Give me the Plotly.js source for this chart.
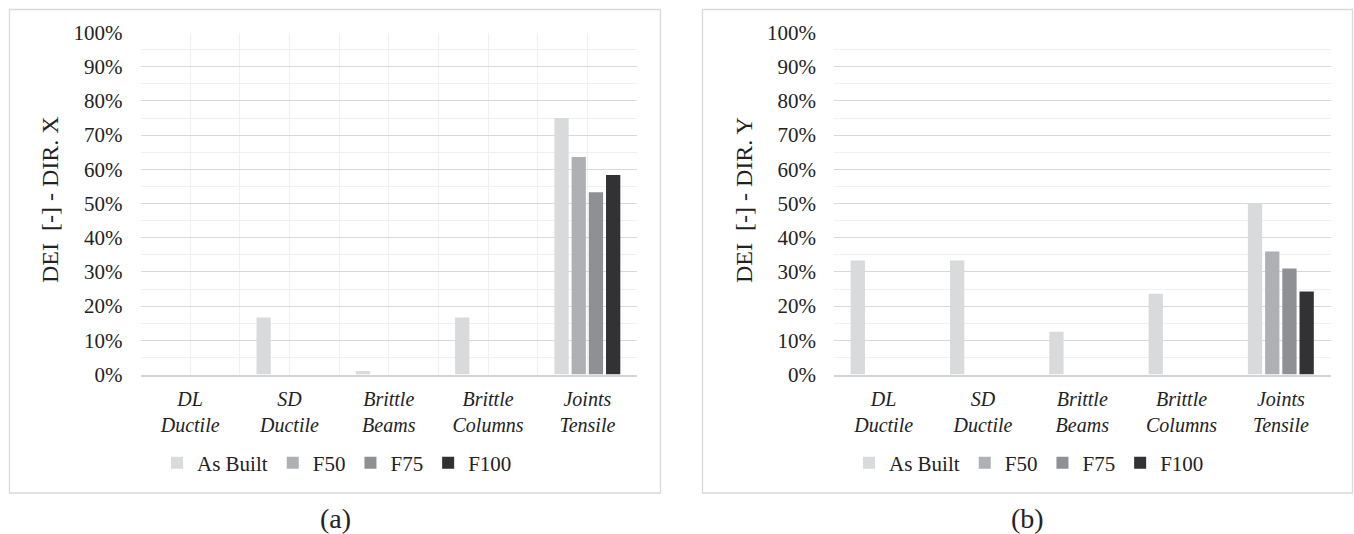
<!DOCTYPE html>
<html>
<head>
<meta charset="utf-8">
<script src="https://cdn.plot.ly/plotly-3.0.1.min.js"></script>
<style>
  html, body { margin: 0; padding: 0; background: #ffffff; }
  #chart { width: 1354px; height: 534px; }
</style>
</head>
<body>
<div id="chart"></div>
<script>
// ---- Data ----
const categories = ['DL<br>Ductile', 'SD<br>Ductile', 'Brittle<br>Beams', 'Brittle<br>Columns', 'Joints<br>Tensile'];
const seriesNames = ['As Built', 'F50', 'F75', 'F100'];
const seriesColors = ['#d9dadc', '#afb0b3', '#8f9094', '#323133'];

// (a) DIR. X
const dirX_AsBuilt = [0.000, 0.167, 0.010, 0.167, 0.750];
const dirX_F50     = [0.000, 0.000, 0.000, 0.000, 0.636];
const dirX_F75     = [0.000, 0.000, 0.000, 0.000, 0.533];
const dirX_F100    = [0.000, 0.000, 0.000, 0.000, 0.583];

// (b) DIR. Y
const dirY_AsBuilt = [0.333, 0.333, 0.125, 0.236, 0.500];
const dirY_F50     = [0.000, 0.000, 0.000, 0.000, 0.360];
const dirY_F75     = [0.000, 0.000, 0.000, 0.000, 0.310];
const dirY_F100    = [0.000, 0.000, 0.000, 0.000, 0.243];

const yTitleX = 'DEI  [-] - DIR. X';
const yTitleY = 'DEI  [-] - DIR. Y';
const panelLabels = ['(a)', '(b)'];

// ---- Build ----
const FONT = '"Liberation Serif", "Times New Roman", "DejaVu Serif", serif';
const TXT = '#222222';
const W = 1354, H = 534;
const px = v => v / W;
const py = v => 1 - v / H;

const catIdx = categories.map((_, i) => i);
const tickText = categories.map(c => '<i>' + c + '</i>');

const setX = [dirX_AsBuilt, dirX_F50, dirX_F75, dirX_F100];
const setY = [dirY_AsBuilt, dirY_F50, dirY_F75, dirY_F100];

const traces = [];
setX.forEach((vals, k) => traces.push({
  type: 'bar', x: catIdx, y: vals, name: seriesNames[k],
  marker: { color: seriesColors[k], line: { width: 0 } },
  xaxis: 'x', yaxis: 'y', legend: 'legend', hoverinfo: 'skip'
}));
setY.forEach((vals, k) => traces.push({
  type: 'bar', x: catIdx, y: vals, name: seriesNames[k],
  marker: { color: seriesColors[k], line: { width: 0 } },
  xaxis: 'x2', yaxis: 'y2', legend: 'legend2', hoverinfo: 'skip'
}));

const yDomain = [py(374.5), py(32.5)];

function yAxis(anchor) {
  return {
    domain: yDomain, anchor: anchor, range: [0, 1], dtick: 0.1, tick0: 0,
    tickformat: '.0%', showline: false, zeroline: false,
    showgrid: true, gridcolor: '#d9d9d9', gridwidth: 1,
    minor: { dtick: 0.05, tick0: 0, showgrid: true, gridcolor: '#f0f0f0', gridwidth: 1 },
    ticks: '', ticklabelstandoff: 17,
    tickfont: { family: FONT, size: 21, color: TXT },
    fixedrange: true
  };
}
function xAxis(domain, anchor, vgrid) {
  const ax = {
    domain: domain, anchor: anchor, range: [-0.5, categories.length - 0.5],
    tickmode: 'array', tickvals: catIdx, ticktext: tickText,
    showline: true, linecolor: '#d4d4d4', linewidth: 2,
    zeroline: false, ticks: '', ticklabelstandoff: 5,
    tickfont: { family: FONT, size: 20, color: TXT },
    showgrid: vgrid, gridcolor: '#f0f0f0', gridwidth: 1,
    fixedrange: true
  };
  if (vgrid) {
    ax.minor = { tickmode: 'linear', tick0: -0.5, dtick: 1, showgrid: true, gridcolor: '#f0f0f0', gridwidth: 1 };
  }
  return ax;
}

const legendBase = {
  orientation: 'h', xanchor: 'center', yanchor: 'middle', y: py(463),
  font: { family: FONT, size: 21, color: TXT }, bgcolor: 'rgba(0,0,0,0)',
  itemwidth: 30, tracegroupgap: 0, traceorder: 'normal'
};

const layout = {
  width: W, height: H,
  margin: { l: 0, r: 0, t: 0, b: 0 },
  paper_bgcolor: '#ffffff', plot_bgcolor: '#ffffff',
  barmode: 'group', bargap: 0.307, bargroupgap: 0.17,
  showlegend: true,
  font: { family: FONT, color: TXT },
  xaxis: xAxis([px(140.5), px(637)], 'y', true),
  yaxis: yAxis('x'),
  xaxis2: xAxis([px(834), px(1330.5)], 'y2', false),
  yaxis2: yAxis('x2'),
  legend: Object.assign({}, legendBase, { x: px(337) }),
  legend2: Object.assign({}, legendBase, { x: px(1029) }),
  shapes: [
    { type: 'rect', xref: 'paper', yref: 'paper', x0: px(9.5), x1: px(660.5), y0: py(493), y1: py(9.5),
      line: { color: '#d9d9d9', width: 1.3 }, fillcolor: 'rgba(0,0,0,0)', layer: 'below' },
    { type: 'rect', xref: 'paper', yref: 'paper', x0: px(702.5), x1: px(1352.5), y0: py(493), y1: py(9.5),
      line: { color: '#d9d9d9', width: 1.3 }, fillcolor: 'rgba(0,0,0,0)', layer: 'below' }
  ],
  annotations: [
    { text: yTitleX, xref: 'paper', yref: 'paper', x: px(50), y: py(200), textangle: -90,
      xanchor: 'center', yanchor: 'middle', showarrow: false, font: { family: FONT, size: 24, color: TXT } },
    { text: yTitleY, xref: 'paper', yref: 'paper', x: px(744), y: py(200), textangle: -90,
      xanchor: 'center', yanchor: 'middle', showarrow: false, font: { family: FONT, size: 24, color: TXT } },
    { text: panelLabels[0], xref: 'paper', yref: 'paper', x: px(335), y: py(518),
      xanchor: 'center', yanchor: 'middle', showarrow: false, font: { family: FONT, size: 28, color: TXT } },
    { text: panelLabels[1], xref: 'paper', yref: 'paper', x: px(1027), y: py(518),
      xanchor: 'center', yanchor: 'middle', showarrow: false, font: { family: FONT, size: 28, color: TXT } }
  ]
};

Plotly.newPlot('chart', traces, layout, { staticPlot: true, displayModeBar: false });
</script>
</body>
</html>
